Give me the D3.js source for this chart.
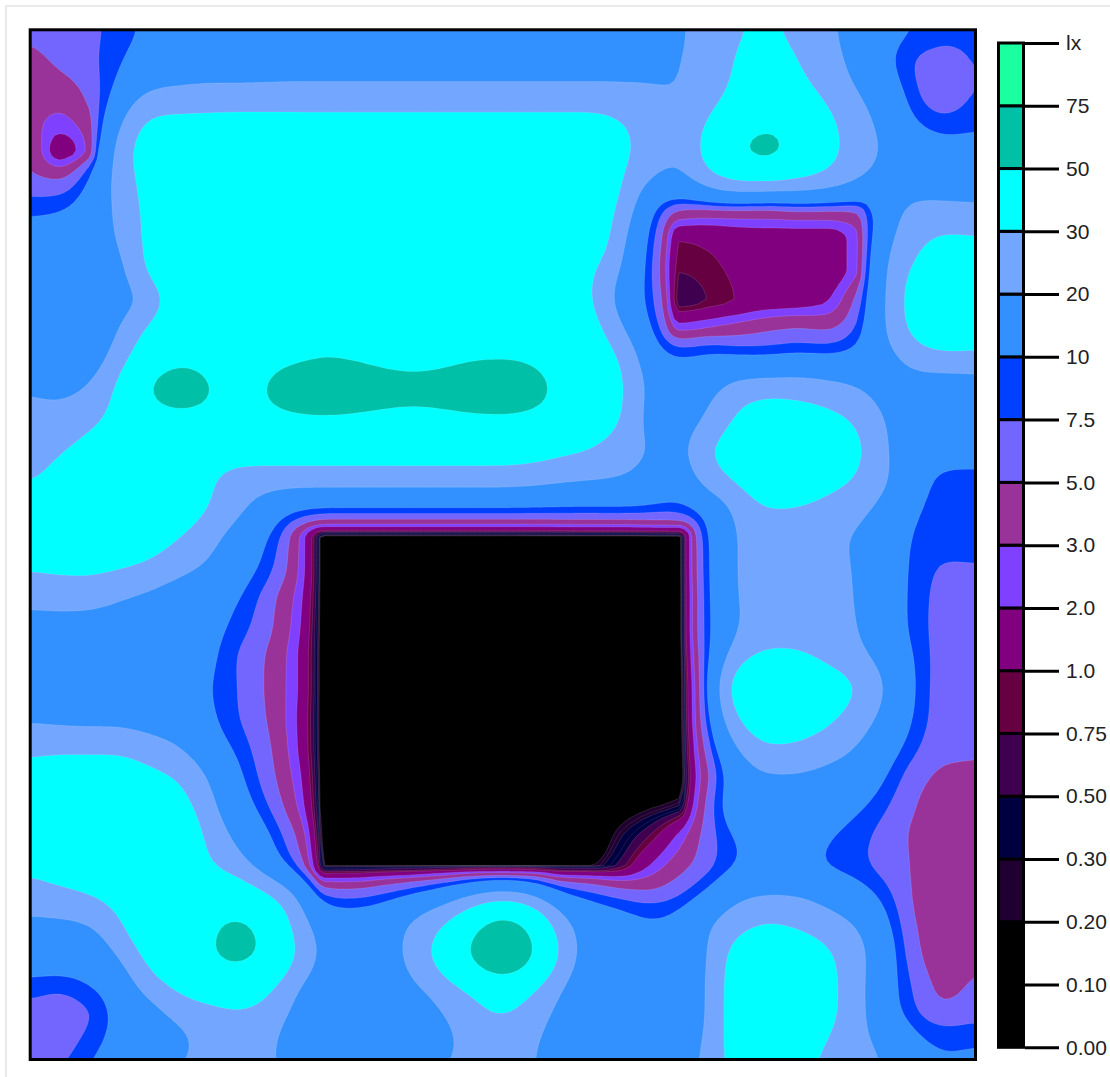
<!DOCTYPE html>
<html>
<head>
<meta charset="utf-8">
<script src="https://cdn.jsdelivr.net/npm/d3@7"></script>
<style>
  html, body { margin: 0; padding: 0; background: #fff; }
  text { font-family: "Liberation Sans", Arial, sans-serif; }
</style>
</head>
<body>
<div id="chart"></div>
<script>
// band edges in lux, bottom to top of the colour bar
const levels = [0, 0.1, 0.2, 0.3, 0.5, 0.75, 1, 2, 3, 5, 7.5, 10, 20, 30, 50, 75];
const bandColors = ["#000000", "#000000", "#200030", "#000040", "#400050", "#660040", "#800080", "#8040ff",
    "#993399", "#7366ff", "#0040ff", "#3390ff", "#73a6ff", "#00ffff", "#00c0a8", "#1affa0"];
const tickLabels = ["0.00", "0.10", "0.20", "0.30", "0.50", "0.75", "1.0", "2.0", "3.0", "5.0", "7.5", "10", "20", "30", "50", "75", "lx"];
// extra iso lines inside the steep dark bands, no fill of their own
const minorLevels = [0.25, 0.4];

// measured illuminance per grid node, first row is the top wall
const lux = [
    [6,6.5,6.8,8.5,10.5,12,13,13.5,14,14,14,14,14,14,14,14,14,14,14,14.5,15,16,18.5,24,29,31,27,22,16,12,10.5,9,8.5],
    [4,5.5,6.8,9.2,13,15,16,16,16.5,17,17,17,17,17,17,17,17,17,17,17,17,18,19.5,24,31,36,30,24,17,11,7,6,8],
    [3.6,3.8,5.6,11,19.5,20.5,21,21,21,21,21,21,21,21,21,21,21,21,21,21,21,20.5,19.8,25,33,38,34,27,20,14,7.5,5.5,8],
    [3.5,2.7,4,17,32,33,33.5,34,34,34,34,34,34,34,34,34,34,34,34,34,31,25,21,31,40,46,42,33,24,17,9.5,7.8,9],
    [4.5,1.4,3.1,24,36,38,38,38,38,38,38,38,38,38,38,38,38,38,38,36,33,26,20.5,36,50,58,45,35,25,19,14,12,12],
    [5.6,4.9,9.5,24,34,40,41,41,41,41,41,41,41,41,41,41,41,41,41,40,32,19,17,26,32,31,30,27,21,16,15,14,14],
    [9.2,9.5,13,22,33,41,42,42,42,42,42,42,42,42,42,42,42,42,42,40,28,10.5,4.5,4.2,4.2,4.2,4.5,4.5,4.5,14,23,23,22],
    [12,13,15,20,33,42,44,44,44,44,44,44,44,44,44,44,44,44,44,42,22,9,1.03,1.12,1.35,1.5,1.5,1.5,2.5,17,27,32,31],
    [12,13,15,16,33,42,46,47,47,47,47,47,47,47,47,47,47,47,44,31,20,8,0.78,0.9,1.12,1.45,1.5,1.5,2.5,20,32,38,38],
    [11.5,12.5,15,16.5,20.5,38,45,47,47,47,47,47,47,47,47,47,47,47,42,30.5,16,9,0.55,0.77,1.04,1.4,1.5,1.9,4.9,20,36,42,42],
    [11,12,14,19,32,42,47,49,49,49,49,49,49,49,49,49,49,49,46,36,21,10.5,2.6,3.1,3.8,4.6,5.1,4.7,7,20,34,42,40],
    [15,14.5,15,24,40,47,47,47,47,46.5,48,47.5,47,47,47,47.5,47.5,47,45,40,30,14,10,12,10.5,10,11,10.5,12,16,23,25,25],
    [20,17,20.5,32,52,58,51,47,50,60,65,60,55,53.5,55,60,63,58,46,42,33,17,15,17,24,26,26,24,20.5,16,16,15,16],
    [22,24,27,34,43,46,47,47,47,47,47,47,47,47,47,47,47,46,44,40,31,16,14,21,32,38,36,33,29,19,14,13,13],
    [26,29,33,37,38,38,37,37,37,37,37,37,37,37,37,37,37,36,33,30,24,20,16,31,35,42,42,38,33,21,12,11,11],
    [28,33,36,37,37,36,32,26,25,25,25,25,25,25,25,25,25,24,22,21,20.5,17,13,26,33,38,38,34,30,22,10.8,9.6,9.6],
    [35,38,39,39,38,36,31,23,15,10.5,9.5,9.5,9.5,9.5,9.5,9.5,9.5,9.5,9.5,9.5,9.5,9.5,9,12,22,31,30,27,24,16,10,9.4,9.3],
    [36,38,38,38,36,30.5,24,15,10.5,3.5,0.05,0.05,0.05,0.05,0.05,0.05,0.05,0.05,0.05,0.05,0.05,0.05,0.05,9.5,21,23,23,22,19,13,9.5,8.8,8.9],
    [31,32,32.5,31,28,23,19,13,9.2,3.4,0.05,0.05,0.05,0.05,0.05,0.05,0.05,0.05,0.05,0.05,0.05,0.05,0.05,9.5,21,24,24,23,19.5,13,9.2,7,7.3],
    [23,24,24,20.5,18,15,13,10.5,6.2,2.8,0.05,0.05,0.05,0.05,0.05,0.05,0.05,0.05,0.05,0.05,0.05,0.05,0.05,9,21,23,24,23,20,13,9,6.2,5.8],
    [16,16,15.5,15,14,13,12,9,5.8,2.5,0.05,0.05,0.05,0.05,0.05,0.05,0.05,0.05,0.05,0.05,0.05,0.05,0.05,9,20,24,25,24,20.5,13,9,6,5.7],
    [14,13,13,13,13,13,11.5,7.2,4.9,2.2,0.05,0.05,0.05,0.05,0.05,0.05,0.05,0.05,0.05,0.05,0.05,0.05,0.05,8.5,26,33,32,27,23,15.5,9.6,6,5.7],
    [13.5,13,13,13,13,12,10.5,7.5,4.8,2.2,0.05,0.05,0.05,0.05,0.05,0.05,0.05,0.05,0.05,0.05,0.05,0.05,0.05,8,40,42,41,37,31,19.5,9.6,6,5.7],
    [18,17,16.5,16.5,15,14,11,7.6,5,2.1,0.05,0.05,0.05,0.05,0.05,0.05,0.05,0.05,0.05,0.05,0.05,0.05,0.05,7.5,32,39,37,33,26,17,9.2,6,5.7],
    [27,27,27,27,24,20,13,9.2,5.6,2.2,0.05,0.05,0.05,0.05,0.05,0.05,0.05,0.05,0.05,0.05,0.05,0.05,0.05,6,21,30,29,25,20,13,8,5.5,5.3],
    [34,37,37,37,33,29.5,19.5,11,6.2,2.6,0.05,0.05,0.05,0.05,0.05,0.05,0.05,0.05,0.05,0.05,0.05,0.05,0.05,4.6,14,19,19,17,15,10,5.8,4.6,4.6],
    [39,41,41,41,40,36,23,13.5,7.7,3.2,0.05,0.05,0.05,0.05,0.05,0.05,0.05,0.05,0.05,0.05,0.1,0.17,0.3,5.6,15,14,13.5,13,11,7.8,5,3.9,3.9],
    [38,42,45,46,46,44,27,18,11,5,0.05,0.05,0.05,0.05,0.05,0.05,0.05,0.05,0.05,0.05,0.27,0.75,2.2,6.2,10.5,13,13,10.5,8.5,6.4,4.6,3.8,3.8],
    [32.5,37,40,43,44,44,31,24,14,7,0.2,0.2,0.2,0.2,0.2,0.2,0.2,0.2,0.2,0.2,0.6,2,4,6.5,9.7,12.5,12,9,8,6.4,4.7,3.7,3.7],
    [24.5,26.5,29.5,35,42,44,43,41,31.5,20.5,6.4,6.5,8,10.5,14,19.5,23,19.5,10.8,8.6,6.5,5.6,7,11,18.5,20,20,17,13,8.5,4.6,3.7,3.7],
    [18,18,19,28,40,43,47,53,47,26,15,13.5,15,22,30,44,60,46,24,15,13,11,12,19.5,26,31,28,24,20,11,4.9,3.8,3.8],
    [14,14,14,20,34,42,48,56,48,30.5,17,13,15,24,36,54,72,54,28,15,11.5,11,11,20,36,42,40,32,24,13,5.4,3.8,4.3],
    [8.8,8,10,13,25,33,39,38,34,21,14,13,13,19,26,33,40,33,20.5,13,11.5,11,11,21,38,46,44,34,23.5,12.5,6.8,4.2,5.4],
    [6.6,6,6.8,11.5,15,22,25.5,29,27,17,13,12.5,12.5,13,20,26,31,25,17,12.5,11.5,11,11,21,38,46,45,34,23.5,13,7.5,5.8,6.4],
    [6.2,6.2,8.5,12,14,17,22.5,25,23,14,12.5,12,12,12.5,16,24,24,21.5,15,12.5,11.5,11,12,23,36,40,37,29,22,19,11.5,9.6,10.3],
    [6.5,7.5,11,13,16,21,24,25,23,15,12.5,12,12,13,21,25,25,21,14,12.5,11.5,11,13,25,33,36,33,27,23,20,13,11,11]
];

const width = 1110, height = 1077;
const plot = { left: 31, right: 974, top: 31, bottom: 1058 };
const oversample = 6;

const svg = d3.select("#chart").append("svg")
    .attr("width", width)
    .attr("height", height)
    .style("display", "block");

// page frame
svg.append("rect")
    .attr("x", 6).attr("y", 6)
    .attr("width", width).attr("height", height)
    .attr("fill", "#fff")
    .attr("stroke", "#e4e4e4")
    .attr("stroke-width", 1.5);

// monotone cubic along one line, so the steep wall edges do not ring
function resample(values) {
    const n = values.length;
    const d = d3.pairs(values, (a, b) => b - a);
    const m = values.map((v, i) => {
        if (i === 0) return d[0];
        if (i === n - 1) return d[n - 2];
        const a = d[i - 1], b = d[i];
        return a * b > 0 ? 2 * a * b / (a + b) : 0;
    });
    const out = [];
    for (let i = 0; i < n - 1; i++) {
        for (let k = 0; k < oversample; k++) {
            const t = k / oversample, t2 = t * t, t3 = t2 * t;
            out.push((2 * t3 - 3 * t2 + 1) * values[i] + (t3 - 2 * t2 + t) * m[i]
                + (3 * t2 - 2 * t3) * values[i + 1] + (t3 - t2) * m[i + 1]);
        }
    }
    out.push(values[n - 1]);
    return out;
}

const nx = lux[0].length, ny = lux.length;
const rowsFine = lux.map(resample);
const fw = rowsFine[0].length;
const columns = d3.range(fw).map(i => resample(rowsFine.map(r => r[i])));
const fh = columns[0].length;
const raw = new Float64Array(fw * fh);
for (let j = 0; j < fh; j++) {
    for (let i = 0; i < fw; i++) {
        raw[j * fw + i] = Math.max(0, columns[i][j]);
    }
}

// soften the bright part only, the dark rings along the walls stay sharp
const soft = Float64Array.from(raw);
d3.blur2({ data: soft, width: fw, height: fh }, 2);
const keep = d3.scaleLinear().domain([2, 8]).range([0, 1]).clamp(true);
const field = raw.map((v, i) => {
    const w = keep(v);
    return v * (1 - w) + soft[i] * w;
});

const x = d3.scaleLinear().domain([0, nx - 1]).range([30, 974]);
const y = d3.scaleLinear().domain([0, ny - 1]).range([31, 1074]);

const path = d3.geoPath(d3.geoTransform({
    point: function (px, py) {
        this.stream.point(x((px - 0.5) / oversample), y((py - 0.5) / oversample));
    }
}));

const contours = d3.contours().size([fw, fh]);

svg.append("clipPath").attr("id", "plot-clip")
    .append("rect")
    .attr("x", plot.left).attr("y", plot.top)
    .attr("width", plot.right - plot.left)
    .attr("height", plot.bottom - plot.top);

const map = svg.append("g").attr("clip-path", "url(#plot-clip)");

map.append("rect")
    .attr("x", plot.left).attr("y", plot.top)
    .attr("width", plot.right - plot.left)
    .attr("height", plot.bottom - plot.top)
    .attr("fill", bandColors[0]);

map.selectAll("path.band")
    .data(levels.slice(1).map((t, i) => ({ t: t, color: bandColors[i + 1] })))
    .enter().append("path")
    .attr("class", "band")
    .attr("fill", d => d.color)
    .attr("stroke", d => d.t < 0.2 ? "none" : "rgba(255,255,255,0.25)")
    .attr("stroke-width", 0.5)
    .attr("d", d => path(contours.contour(field, d.t)));

map.selectAll("path.minor")
    .data(minorLevels)
    .enter().append("path")
    .attr("class", "minor")
    .attr("fill", "none")
    .attr("stroke", "rgba(255,255,255,0.2)")
    .attr("stroke-width", 0.5)
    .attr("d", d => path(contours.contour(field, d)));

// plot border
svg.append("rect")
    .attr("x", 30.2).attr("y", 29.8)
    .attr("width", 945.3).attr("height", 1029.7)
    .attr("fill", "none")
    .attr("stroke", "#000")
    .attr("stroke-width", 3);

// colour bar
const barY = d3.scalePoint().domain(tickLabels).range([1047.3, 43]);

svg.append("g").selectAll("rect")
    .data(bandColors)
    .enter().append("rect")
    .attr("x", 998.5)
    .attr("y", (d, i) => barY(tickLabels[i + 1]))
    .attr("width", 25)
    .attr("height", (d, i) => barY(tickLabels[i]) - barY(tickLabels[i + 1]))
    .attr("fill", d => d)
    .attr("stroke", "#000")
    .attr("stroke-width", 3);

const barAxis = svg.append("g")
    .attr("transform", "translate(1025,0)")
    .call(d3.axisRight(barY).tickSize(34).tickPadding(7));

barAxis.select(".domain").remove();
barAxis.selectAll("line").attr("stroke", "#000").attr("stroke-width", 3);
barAxis.selectAll("text")
    .attr("fill", "#222")
    .style("font-size", "21px")
    .style("font-family", "'Liberation Sans', Arial, sans-serif");
</script>
</body>
</html>
